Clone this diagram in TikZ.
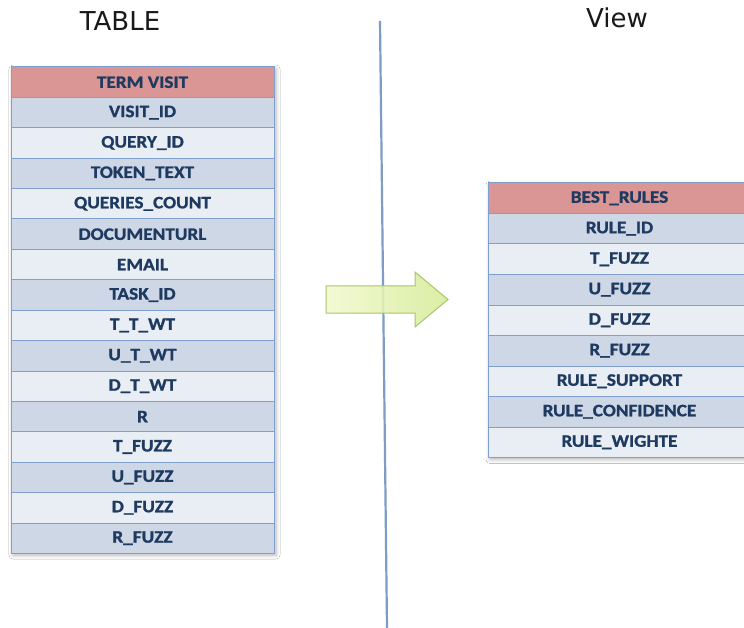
\documentclass[tikz,border=0pt]{standalone}
\usepackage{fontspec}
\newfontfamily\cellfont[FakeStretch=1.1,FakeBold=1.2]{Carlito}
\newfontfamily\titlefont{DejaVu Sans}
\usetikzlibrary{shadows.blur}
\definecolor{hdr}{HTML}{D99694}
\definecolor{rowA}{HTML}{CDD7E6}
\definecolor{rowB}{HTML}{E9EDF4}
\definecolor{edge}{HTML}{7F9FCF}
\definecolor{ink}{HTML}{1F3A60}
\definecolor{divider}{HTML}{7F9CC6}
\definecolor{arrowfillL}{HTML}{F2F9CF}
\definecolor{arrowfillR}{HTML}{D6EC98}
\definecolor{arrowedge}{HTML}{A8C46E}
\tikzset{
  cell/.style={draw=edge, line width=1pt, minimum width=263pt, inner sep=0pt,
    font=\cellfont\bfseries\fontsize{17.5}{19}\selectfont, text=ink},
  lcell/.style={cell, minimum height=30.4pt},
  rcell/.style={cell, minimum height=30.5pt},
  title/.style={font=\titlefont\fontsize{26}{30}\selectfont, text=black!90, inner sep=0pt},
  tshadow/.style={blur shadow={shadow xshift=2pt, shadow yshift=-2pt, shadow blur radius=4pt, shadow opacity=30}}
}
\begin{document}
\begin{tikzpicture}[x=1pt,y=-1pt]
\useasboundingbox (0,0) rectangle (744,628);
\clip (0,0) rectangle (744,628);
\fill[white] (0,0) rectangle (744,628);
% titles
\node[title] (ttable) at (120,21) {TABLE};
\node[title] (tview) at (617,18) {View};
% divider
\coordinate (dtop) at (380,21);
\coordinate (dbot) at (387,628);
\draw[divider, line width=2.2pt] (dtop) -- (dbot);
% left table
\path[tshadow] (11,67) rectangle (274,553);
\node[lcell, fill=hdr] (L0) at (142.5,82.2) {TERM VISIT};
\foreach [count=\i] \t in {VISIT\_ID,QUERY\_ID,TOKEN\_TEXT,QUERIES\_COUNT,DOCUMENTURL,EMAIL,TASK\_ID,T\_T\_WT,U\_T\_WT,D\_T\_WT,R,T\_FUZZ,U\_FUZZ,D\_FUZZ,R\_FUZZ}{
  \pgfmathsetmacro{\yy}{82.2+\i*30.4}
  \ifodd\i \def\ff{rowA}\else\def\ff{rowB}\fi
  \node[lcell, fill=\ff] (L\i) at (142.5,\yy) {\t};
}
% right table
\path[tshadow] (488,183) rectangle (751,457.5);
\node[rcell, fill=hdr] (R0) at (619.5,198.25) {BEST\_RULES};
\foreach [count=\i] \t in {RULE\_ID,T\_FUZZ,U\_FUZZ,D\_FUZZ,R\_FUZZ,RULE\_SUPPORT,RULE\_CONFIDENCE,RULE\_WIGHTE}{
  \pgfmathsetmacro{\yy}{198.25+\i*30.5}
  \ifodd\i \def\ff{rowA}\else\def\ff{rowB}\fi
  \node[rcell, fill=\ff] (R\i) at (619.5,\yy) {\t};
}
% arrow
\draw[arrowedge, line width=1pt, left color=arrowfillL, right color=arrowfillR, fill opacity=0.88]
  (326,286) -- (415,286) -- (415,272) -- (448,299.5) -- (415,327) -- (415,313) -- (326,313) -- cycle;
\end{tikzpicture}
\end{document}
